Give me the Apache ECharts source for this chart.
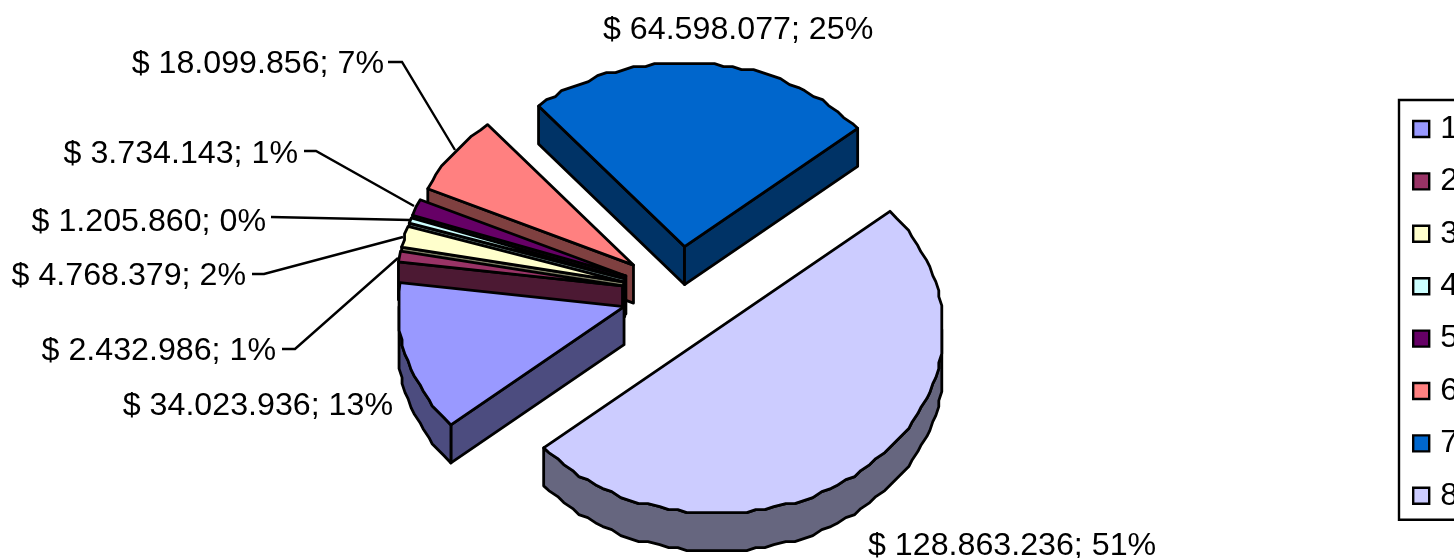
<!DOCTYPE html>
<html>
<head>
<meta charset="utf-8">
<style>html,body{margin:0;padding:0;background:#fff}#c{width:1454px;height:558px}</style>
<script src="https://cdn.jsdelivr.net/npm/echarts@6/dist/echarts.min.js"></script>
</head>
<body>
<div id="c"></div>
<script>
const categories = ['1','2','3','4','5','6','7','8'];
const values = [34023936,2432986,4768379,1205860,3734143,18099856,64598077,128863236];
const percentLabels = [13,1,2,0,1,7,25,51];
const topColors = ['#9999FF','#993366','#FFFFCC','#CCFFFF','#660066','#FF8080','#0066CC','#CCCCFF'];
const sideColors = ['#4C4C7F','#4C1933','#7F7F66','#667F7F','#330033','#7F4040','#003366','#66667F'];
const paintOrder = [5,4,3,2,1,0,6,7];

const pie = {cx:679.6, cy:293.5, rx:226, ry:184, depth:38, explode:0.256, firstAngle:230, bump:3, step:2.5};
const labelLayout = [
  {x:393,y:406,align:'right',leader:null},
  {x:276,y:351,align:'right',leader:[[282,349],[295,349],[398,258]]},
  {x:246,y:276,align:'right',leader:[[252,274],[264,274],[403,237]]},
  {x:266,y:222,align:'right',leader:[[271,217],[410,220]]},
  {x:298,y:154,align:'right',leader:[[304,151],[316,151],[414,206]]},
  {x:384,y:64,align:'right',leader:[[388,62],[402,62],[455,150]]},
  {x:603,y:30,align:'left',leader:null},
  {x:868,y:546,align:'left',leader:null}
];
const FONT = '32.2px "Liberation Sans", Arial, sans-serif';

const total = values.reduce((a,b)=>a+b,0);
const angles = []; 
let acc = pie.firstAngle;
values.forEach(v=>{const s=acc; acc+=v/total*360; angles.push([s,acc]);});
const rad = d=>d*Math.PI/180;
const snap = v=>Math.round(v/pie.bump)*pie.bump;

function slicePaths(i){
  const [a0,a1] = angles[i];
  const mid = rad((a0+a1)/2);
  const ax = pie.cx + pie.explode*pie.rx*Math.sin(mid);
  const ay = pie.cy - pie.explode*pie.ry*Math.cos(mid);
  const pt = (deg,sn)=>{
    let x = pie.rx*Math.sin(rad(deg)), y = -pie.ry*Math.cos(rad(deg));
    if(sn){x=snap(x);y=snap(y);}
    return [ax+x, ay+y];
  };
  const arc=[];
  const n=Math.max(1,Math.round((a1-a0)/pie.step));
  for(let k=0;k<=n;k++){arc.push(pt(a0+(a1-a0)*k/n,k>0&&k<n));}
  return {apex:[ax,ay],arc,a0,a1,pt};
}
const down = (p,d)=>[p[0],p[1]+d];

function renderSlice(i){
  const s = slicePaths(i);
  const kids=[];
  const lw=2.8;
  const style=(fill)=>({fill,stroke:'#000',lineWidth:lw,lineJoin:'round'});
  const midPt = s.arc[Math.floor(s.arc.length/2)];
  const faces=[];
  [s.arc[0],s.arc[s.arc.length-1]].forEach(P=>{
    const ex=P[0]-s.apex[0], ey=P[1]-s.apex[1];
    let nx=-ey, ny=ex;
    const dot=nx*(midPt[0]-s.apex[0])+ny*(midPt[1]-s.apex[1]);
    if(dot>0){nx=-nx;ny=-ny;}
    if(ny>0){faces.push({y:(P[1]+s.apex[1])/2,pts:[s.apex,P,down(P,pie.depth),down(s.apex,pie.depth)]});}
  });
  faces.sort((a,b)=>a.y-b.y);
  faces.forEach(f=>kids.push({type:'polygon',shape:{points:f.pts},style:style(sideColors[i])}));
  const front=[];
  s.arc.forEach((p,k)=>{
    const deg=s.a0+(s.a1-s.a0)*k/(s.arc.length-1);
    const c=Math.cos(rad(deg));
    if(c<=0.02) front.push(p);
  });
  if(front.length>1){
    const wall=front.concat(front.slice().reverse().map(p=>down(p,pie.depth)));
    kids.push({type:'polygon',shape:{points:wall},style:style(sideColors[i])});
  }
  kids.push({type:'polygon',shape:{points:[s.apex].concat(s.arc)},style:style(topColors[i])});
  return {type:'group',children:kids};
}

const fmt = v=>String(v).replace(/\B(?=(\d{3})+(?!\d))/g,'.');

const series = categories.map((name,i)=>({
  type:'custom',
  name,
  coordinateSystem:'none',
  silent:true,
  animation:false,
  z:3+paintOrder.indexOf(i),
  itemStyle:{color:topColors[i]},
  data:[[values[i]]],
  renderItem:()=>renderSlice(i)
}));

series.push({
  type:'custom',
  name:'labels',
  coordinateSystem:'none',
  silent:true,
  animation:false,
  z:2,
  data:values.map((v,i)=>[v,percentLabels[i]]),
  renderItem:(params)=>{
    const i=params.dataIndex, L=labelLayout[i], kids=[];
    if(L.leader){
      kids.push({type:'polyline',shape:{points:L.leader},style:{fill:null,stroke:'#000',lineWidth:2.4}});
    }
    kids.push({type:'text',style:{
      text:'$ '+fmt(values[i])+'; '+percentLabels[i]+'%',
      x:L.x,y:L.y,align:L.align,verticalAlign:'middle',fill:'#000',font:FONT
    }});
    return {type:'group',children:kids};
  }
});

const chart = echarts.init(document.getElementById('c'),null,{renderer:'canvas'});
chart.setOption({
  animation:false,
  backgroundColor:'#fff',
  legend:{
    show:true,
    orient:'vertical',
    left:1399,
    top:100,
    data:categories,
    selectedMode:false,
    icon:'rect',
    itemWidth:16,
    itemHeight:16,
    itemGap:20.4,
    padding:[13,120,8,13],
    borderColor:'#000',
    borderWidth:2.4,
    backgroundColor:'#fff',
    itemStyle:{borderColor:'#000',borderWidth:2.4},
    textStyle:{fontSize:32.2,fontFamily:'"Liberation Sans", Arial, sans-serif',color:'#000',padding:[0,0,0,6]}
  },
  series
});
</script>
</body>
</html>
